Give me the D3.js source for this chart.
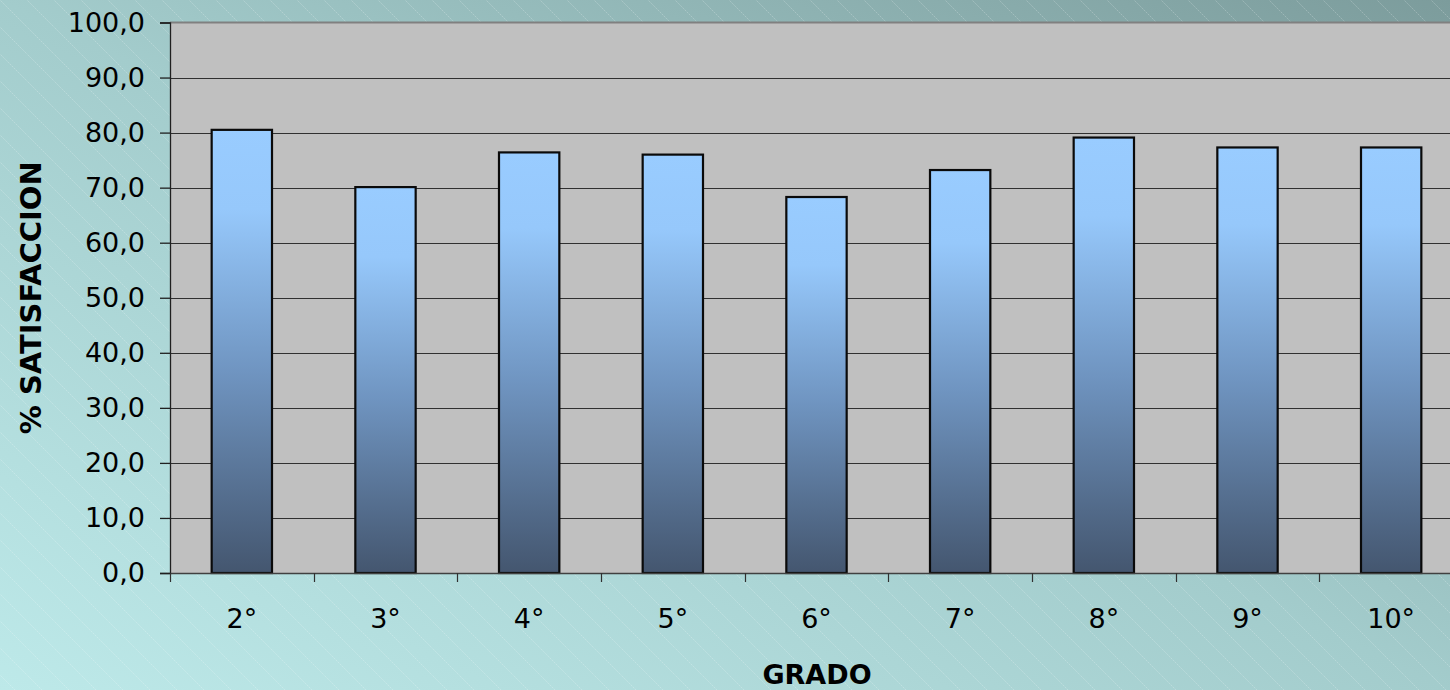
<!DOCTYPE html>
<html>
<head>
<meta charset="utf-8">
<script src="https://cdn.jsdelivr.net/npm/d3@7"></script>
<style>
html,body{margin:0;padding:0;overflow:hidden;}
svg{display:block;}
</style>
</head>
<body>
<svg id="chart" width="1450" height="690"></svg>
<script>
const categories = ["2°","3°","4°","5°","6°","7°","8°","9°","10°"];
const values = [80.5, 70.1, 76.4, 76.0, 68.3, 73.2, 79.1, 77.3, 77.3];
const yTicks = [0,10,20,30,40,50,60,70,80,90,100];
const yTitle = "% SATISFACCION";
const xTitle = "GRADO";

const W = 1450, H = 690;
const plot = {left:170, right:1463, top:22.5, bottom:573};
const svg = d3.select("#chart");
const defs = svg.append("defs");

const bg = defs.append("linearGradient").attr("id","bg")
  .attr("x1","0").attr("y1","1").attr("x2","1").attr("y2","0");
bg.append("stop").attr("offset","0").attr("stop-color","#bde9e9");
bg.append("stop").attr("offset","0.5").attr("stop-color","#a3cccc");
bg.append("stop").attr("offset","1").attr("stop-color","#7c9c9c");

const hatch = defs.append("pattern").attr("id","hatch")
  .attr("patternUnits","userSpaceOnUse").attr("width",27).attr("height",27);
hatch.append("path").attr("d","M-1,-1 L28,28 M-28,-1 L1,28 M26,-1 L55,28")
  .attr("stroke","#ffffff").attr("stroke-opacity",0.22).attr("stroke-width",1)
  .attr("stroke-dasharray","2,1");

const barGrad = defs.append("linearGradient").attr("id","bar")
  .attr("x1","0").attr("y1","0").attr("x2","0").attr("y2","1");
barGrad.append("stop").attr("offset","0").attr("stop-color","#99ccff");
barGrad.append("stop").attr("offset","0.18").attr("stop-color","#96c8fb");
barGrad.append("stop").attr("offset","0.55").attr("stop-color","#6f94c0");
barGrad.append("stop").attr("offset","1").attr("stop-color","#44566f");

svg.append("rect").attr("width",W).attr("height",H).attr("fill","url(#bg)");
svg.append("rect").attr("width",W).attr("height",H).attr("fill","url(#hatch)");

const x = d3.scaleBand().domain(categories).range([plot.left, plot.right]).paddingInner(0.58).paddingOuter(0.29);
const xb = d3.scaleBand().domain(categories).range([plot.left, plot.right]);
const y = d3.scaleLinear().domain([0,100]).range([plot.bottom, plot.top]);

// plot area
svg.append("rect").attr("x",plot.left).attr("y",plot.top)
  .attr("width",plot.right-plot.left).attr("height",plot.bottom-plot.top)
  .attr("fill","#c0c0c0");

// gridlines
svg.append("g").selectAll("line").data(yTicks.filter(d=>d>0 && d<100)).join("line")
  .attr("x1",plot.left).attr("x2",plot.right)
  .attr("y1",d=>Math.round(y(d))+0.5).attr("y2",d=>Math.round(y(d))+0.5)
  .attr("stroke","#303030").attr("stroke-width",1.2);
svg.append("line").attr("x1",plot.left).attr("x2",plot.right)
  .attr("y1",plot.top).attr("y2",plot.top).attr("stroke","#808080").attr("stroke-width",2);

// bars
svg.append("g").selectAll("rect").data(values).join("rect")
  .attr("x",(d,i)=>x(categories[i]))
  .attr("y",d=>y(d))
  .attr("width",x.bandwidth())
  .attr("height",d=>y(0)-y(d))
  .attr("fill","url(#bar)")
  .attr("stroke","#0a0a0a").attr("stroke-width",2.2);

// y axis
const fmt = d => d3.format(".1f")(d).replace(".",",");
const yAxis = svg.append("g").attr("transform",`translate(${plot.left},0)`)
  .call(d3.axisLeft(y).tickValues(yTicks).tickFormat(fmt).tickSize(10).tickPadding(15));
yAxis.select(".domain").attr("stroke","#202020").attr("stroke-width",1.3);
yAxis.selectAll(".tick line").attr("stroke","#202020").attr("stroke-width",1.3);
yAxis.selectAll("text").attr("font-family","DejaVu Sans").attr("font-size",27).attr("fill","#000");

// x axis
const xAxis = svg.append("g").attr("transform",`translate(0,${plot.bottom})`)
  .call(d3.axisBottom(xb).tickSize(0).tickPadding(36));
xAxis.select(".domain").attr("stroke","#404040").attr("stroke-width",1.5);
xAxis.selectAll("text").attr("font-family","DejaVu Sans").attr("font-size",27).attr("fill","#000");
// category boundary ticks
const bounds = categories.map(c=>xb(c)).concat([plot.right]);
svg.append("g").selectAll("line").data(bounds).join("line")
  .attr("x1",d=>Math.round(d)+0.5).attr("x2",d=>Math.round(d)+0.5)
  .attr("y1",plot.bottom).attr("y2",plot.bottom+9)
  .attr("stroke","#303030").attr("stroke-width",1.2);

// titles
svg.append("text").attr("x",817).attr("y",684).attr("text-anchor","middle")
  .attr("font-family","DejaVu Sans").attr("font-weight","bold").attr("font-size",27)
  .text(xTitle);
svg.append("text").attr("transform",`translate(41,${(plot.top+plot.bottom)/2}) rotate(-90)`)
  .attr("text-anchor","middle")
  .attr("font-family","DejaVu Sans").attr("font-weight","bold").attr("font-size",29)
  .text(yTitle);
</script>
</body>
</html>
